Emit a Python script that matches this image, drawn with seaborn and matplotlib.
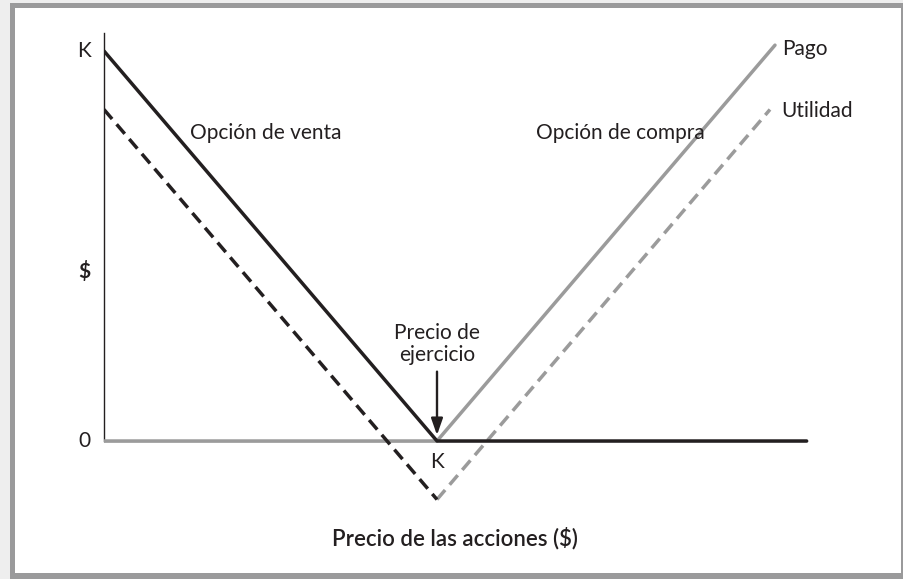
import matplotlib
matplotlib.use("Agg")
import matplotlib.pyplot as plt
from matplotlib.patches import Rectangle
import seaborn as sns
import pandas as pd

# data (stock price units, strike K = 100)
strike = 100
premium = 15
price_max = 211
put_payoff_x = [0, strike, price_max]
put_payoff_y = [100, 0, 0]
put_profit_x = [0, strike]
put_profit_y = [85, -15]
call_payoff_x = [0, strike, 201.5]
call_payoff_y = [0, 0, 101.5]
call_profit_x = [strike, 200]
call_profit_y = [-15, 85]

BLACK = "#231f20"
GRAY = "#9b9b9b"

sns.set_style("white")
plt.rcParams["font.family"] = ["Lato", "DejaVu Sans"]

fig = plt.figure(figsize=(9.04, 5.79), dpi=100)
fig.patch.set_facecolor("#9a9a9b")
W, H = 904, 579
# light strip outside frame (left + top), white panel inside
for r in [Rectangle((0, 0), 10 / W, 1), Rectangle((0, 1 - 3 / H), 1, 3 / H)]:
    r.set(transform=fig.transFigure, facecolor="#eeeeee", edgecolor="none", zorder=-10)
    fig.patches.append(r)
panel = Rectangle((15 / W, 6 / H), (901 - 15) / W, (573 - 8) / H, transform=fig.transFigure,
                  facecolor="white", edgecolor="none", zorder=-9)
fig.patches.append(panel)

# axes placement: x=0 at px 104, 3.33 px per unit; y=0 at px 441, 3.9 px per unit
x0, y0 = 104, 441
xlo, xhi = 0, 215
ylo, yhi = -20, 105
right_px = x0 + (xhi - xlo) * 3.33
top_px = y0 - yhi * 3.9
bot_px = y0 - ylo * 3.9
ax = fig.add_axes([x0 / W, 1 - bot_px / H, (right_px - x0) / W, (bot_px - top_px) / H])
ax.set_facecolor("none")
ax.set_xlim(xlo, xhi)
ax.set_ylim(ylo, yhi)

dash = (0, (3.6, 2.0))
call_df = pd.DataFrame({"x": call_payoff_x, "y": call_payoff_y})
put_df = pd.DataFrame({"x": put_payoff_x, "y": put_payoff_y})
ax.plot([0, price_max], [0, 0], color=BLACK, lw=1.0, zorder=1)
sns.lineplot(data=call_df, x="x", y="y", ax=ax, color=GRAY, lw=2.5, sort=False, zorder=3)
sns.lineplot(x=call_profit_x, y=call_profit_y, ax=ax, color=GRAY, lw=2.5, linestyle=dash, zorder=3)
sns.lineplot(data=put_df, x="x", y="y", ax=ax, color=BLACK, lw=2.5, sort=False, zorder=4)
sns.lineplot(x=put_profit_x, y=put_profit_y, ax=ax, color=BLACK, lw=2.5, linestyle=dash, zorder=4)

for s in ["top", "right", "bottom"]:
    ax.spines[s].set_visible(False)
ax.spines["left"].set_color(BLACK)
ax.spines["left"].set_linewidth(1.0)
ax.spines["left"].set_bounds(0, 104.6)
ax.set_xticks([])
ax.set_yticks([])
ax.set_xlabel("")
ax.set_ylabel("")

fs = 15
ax.text(-4, 100, "K", ha="right", va="center", fontsize=fs, color=BLACK)
ax.text(-4, 0, "0", ha="right", va="center", fontsize=fs, color=BLACK)
ax.text(-4, 43.5, "$", ha="right", va="center", fontsize=fs, color=BLACK, fontweight="bold")
ax.text(strike, -5.5, "K", ha="center", va="center", fontsize=fs, color=BLACK)
ax.text(48.5, 79, "Opción de venta", ha="center", va="center", fontsize=fs, color=BLACK)
ax.text(155, 79, "Opción de compra", ha="center", va="center", fontsize=fs, color=BLACK)
ax.text(203.5, 100.5, "Pago", ha="left", va="center", fontsize=fs, color=BLACK)
ax.text(203.5, 84.5, "Utilidad", ha="left", va="center", fontsize=fs, color=BLACK)
ax.text(strike, 19.5, "Precio de\nejercicio", ha="center", va="bottom", fontsize=fs, color=BLACK,
        linespacing=1.1)
ax.annotate("", xy=(strike, 0.8), xytext=(strike, 18.5),
            arrowprops=dict(arrowstyle="-|>,head_length=1.0,head_width=0.35", color=BLACK, lw=1.7))
fig.text(455 / W, 1 - 538 / H, "Precio de las acciones ($)", ha="center", va="center",
         fontsize=16, color=BLACK, fontweight="semibold")

fig.savefig("out.png", dpi=100, facecolor=fig.get_facecolor())
